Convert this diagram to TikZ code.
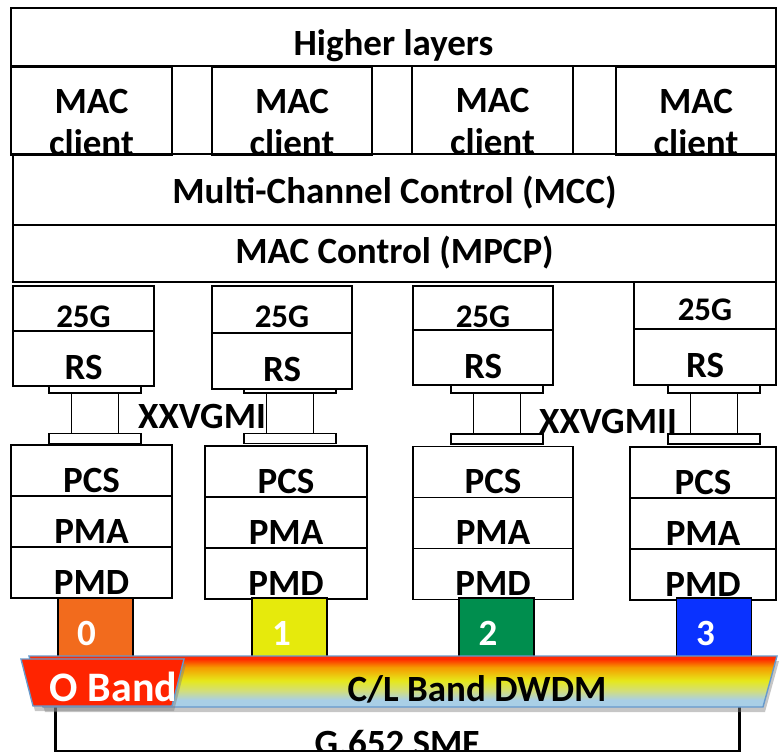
\documentclass[tikz,border=0pt]{standalone}
\usepackage{fontspec}
\setmainfont{Carlito}
\usepackage{xcolor}
\usepackage{tikz}
\definecolor{chOrange}{HTML}{F26B1D}
\definecolor{chYellow}{HTML}{E6EA0C}
\definecolor{chGreen}{HTML}{008E4E}
\definecolor{chBlue}{HTML}{0A32FF}
\definecolor{bandRed}{HTML}{FF2A00}
\definecolor{bandOrange}{HTML}{F59A00}
\definecolor{bandYellow}{HTML}{E6E81A}
\definecolor{bandLime}{HTML}{D2DE7A}
\definecolor{bandBlue}{HTML}{A9CFE6}
\definecolor{bandEdge}{HTML}{6699CC}
\definecolor{oRed}{HTML}{FF2400}
\usetikzlibrary{positioning,shadows}

\pgfdeclareverticalshading{bandshade}{100bp}{color(0bp)=(bandBlue); color(25bp)=(bandBlue); color(32bp)=(bandBlue); color(41bp)=(bandLime); color(51bp)=(bandYellow); color(64bp)=(bandOrange); color(72bp)=(bandRed); color(100bp)=(bandRed)}

\begin{document}
\begin{tikzpicture}[
  x=1pt, y=-1pt,
  font=\fontsize{37}{42}\selectfont\bfseries,
  layer/.style={draw, line width=1.6pt, inner sep=0pt, outer sep=0pt, text depth=0pt},
  client/.style={layer, minimum height=86pt, align=center, text height=88pt, text depth=-20pt},
  gtop/.style={layer, fill=white, font=\fontsize{33}{38}\selectfont\bfseries},
  rsbox/.style={layer, fill=white},
  cell/.style={layer, fill=white, minimum height=51pt, text height=43pt},
  bar/.style={draw, line width=1.6pt, fill=white, minimum width=92pt, minimum height=10pt, inner sep=0pt},
  link/.style={line width=1.6pt},
  chan/.style={draw, line width=1.6pt, minimum width=75pt, minimum height=64pt, inner sep=0pt, text=white, text height=30pt, text depth=0pt},
  lbl/.style={inner sep=0pt},
  band/.style={shading=bandshade, draw=bandEdge, line width=1.4pt, drop shadow={shadow xshift=2pt, shadow yshift=-5pt, opacity=0.45}},
  oband/.style={fill=oRed, draw=bandEdge, line width=1.4pt, drop shadow={shadow xshift=2pt, shadow yshift=-5pt, opacity=0.45}}
]
\useasboundingbox (0,0) rectangle (780,752);

% Upper layers
\node[layer, minimum width=765pt, minimum height=58pt, text height=38pt] (higher) at (393.5,37) {Higher layers};
\node[layer, minimum width=763pt, minimum height=71pt, text height=27pt] (mcc) at (394.5,189.5) {Multi-Channel Control (MCC)};
\node[layer, minimum width=763pt, minimum height=57pt, text height=19pt] (mpcp) at (394.5,253.5) {MAC Control (MPCP)};

% MAC clients
\node[client, minimum width=161pt] (mac1) at (91.5,111) {MAC\\client};
\node[client, minimum width=160pt] (mac2) at (292,111) {MAC\\client};
\node[client, minimum width=161pt] (mac3) at (492.5,110.5) {MAC\\client};
\node[client, minimum width=160pt] (mac4) at (696,111.5) {MAC\\client};

% XXVGMII links
\node[bar] (xt1) at (95,388) {};
\node[bar] (xb1) at (95,438.5) {};
\draw[link] ([xshift=-23.5pt]xt1.south) -- ([xshift=-23.5pt]xb1.north);
\draw[link] ([xshift=23.5pt]xt1.south) -- ([xshift=23.5pt]xb1.north);
\node[bar] (xt2) at (290,388) {};
\node[bar] (xb2) at (290,438.5) {};
\draw[link] ([xshift=-23.5pt]xt2.south) -- ([xshift=-23.5pt]xb2.north);
\draw[link] ([xshift=23.5pt]xt2.south) -- ([xshift=23.5pt]xb2.north);
\node[bar] (xt3) at (497,388) {};
\node[bar] (xb3) at (497,439) {};
\draw[link] ([xshift=-23.5pt]xt3.south) -- ([xshift=-23.5pt]xb3.north);
\draw[link] ([xshift=23.5pt]xt3.south) -- ([xshift=23.5pt]xb3.north);
\node[bar] (xt4) at (714,388) {};
\node[bar] (xb4) at (714,439) {};
\draw[link] ([xshift=-23.5pt]xt4.south) -- ([xshift=-23.5pt]xb4.north);
\draw[link] ([xshift=23.5pt]xt4.south) -- ([xshift=23.5pt]xb4.north);

\node[lbl, anchor=base west] (xxvl) at (138,428) {XXVGMI};
\node[lbl, anchor=base west] (xxvr) at (539,433) {XXVGMII};

% 25G RS
\node[gtop, minimum width=141pt, minimum height=45pt, text height=38pt] (g1) at (83.5,308.5) {25G};
\node[rsbox, minimum width=141pt, minimum height=55pt, text height=41pt] (rs1) at (83.5,358.5) {RS};
\node[gtop, minimum width=140pt, minimum height=47pt, text height=36pt] (g2) at (282,309.5) {25G};
\node[rsbox, minimum width=140pt, minimum height=56pt, text height=40pt] (rs2) at (282,361) {RS};
\node[gtop, minimum width=140pt, minimum height=44pt, text height=39pt] (g3) at (483,308) {25G};
\node[rsbox, minimum width=140pt, minimum height=55pt, text height=41pt] (rs3) at (483,357.5) {RS};
\node[gtop, minimum width=142pt, minimum height=47pt, text height=30pt] (g4) at (705,305.5) {25G};
\node[rsbox, minimum width=142pt, minimum height=56pt, text height=40pt] (rs4) at (705,357) {RS};

% PCS / PMA / PMD
\node[cell, minimum width=161pt] (pcs1) at (91.5,470.5) {PCS};
\node[cell, minimum width=161pt, below=0pt of pcs1] (pma1) {PMA};
\node[cell, minimum width=161pt, below=0pt of pma1] (pmd1) {PMD};
\node[cell, minimum width=162pt] (pcs2) at (286,471.5) {PCS};
\node[cell, minimum width=162pt, below=0pt of pcs2] (pma2) {PMA};
\node[cell, minimum width=162pt, below=0pt of pma2] (pmd2) {PMD};
\node[cell, minimum width=160pt] (pcs3) at (493,472) {PCS};
\node[cell, minimum width=160pt, below=0pt of pcs3] (pma3) {PMA};
\node[cell, minimum width=160pt, below=0pt of pma3] (pmd3) {PMD};
\node[cell, minimum width=146pt] (pcs4) at (703,472.5) {PCS};
\node[cell, minimum width=146pt, below=0pt of pcs4] (pma4) {PMA};
\node[cell, minimum width=146pt, below=0pt of pma4] (pmd4) {PMD};

% Wavelength channels
\node[chan, fill=chOrange] (ch0) at (95.5,630) {0\kern18pt};
\node[chan, fill=chYellow] (ch1) at (289.5,630) {1\kern16pt};
\node[chan, fill=chGreen] (ch2) at (496.5,630) {2\kern17pt};
\node[chan, fill=chBlue] (ch3) at (714,630) {3\kern17pt};

% Fibre
\node[layer, line width=3pt, minimum width=684pt, minimum height=71pt] (smf) at (397,715.5) {};
\node[lbl, anchor=base] (smflabel) at (397,755.5) {G.652 SMF};

% Bands
\path[band] (29,656) -- (777,656) -- (763,707) -- (43,707) -- cycle;
\node[lbl, anchor=base] (dwdm) at (477,701) {C/L Band DWDM};
\path[oband] (21,659) -- (184,659) -- (172,706) -- (33,706) -- cycle;
\node[lbl, anchor=base, text=white, font=\fontsize{42}{48}\selectfont\bfseries] (olabel) at (113.5,701) {O Band};

\end{tikzpicture}
\end{document}
